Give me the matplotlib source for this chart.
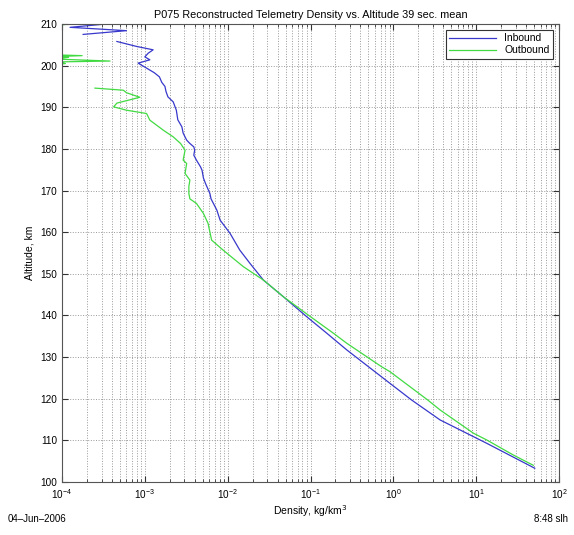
import numpy as np
import matplotlib
matplotlib.use("Agg")
import matplotlib.pyplot as plt
from matplotlib.ticker import FixedLocator, NullFormatter, LogFormatterSciNotation

plt.rcParams['font.family'] = ['Liberation Sans', 'DejaVu Sans']

title = "P075 Reconstructed Telemetry Density vs. Altitude 39 sec. mean"
xlabel = "Density, kg/km$^3$"
ylabel = "Altitude, km"
footer_left = "04\u2013Jun\u20132006"
footer_right = "8:48 slh"

nan = np.nan
inbound_alt = [210.2, 209.9, 209.2, 208.4, 207.5, nan,
               205.8, 204.6, 203.8, 203.0, 202.1, 201.4, 200.6, 199.4, 198.3, 197.3,
               196.0, 195.0, 193.8, 192.5, 191.3, 189.3, 187.0, 185.3, 183.8, 182.1,
               181.3, 180.5, 179.7, 178.5, 177.3, 175.7, 174.9, 173.0, 171.7, 169.3,
               168.0, 165.3, 162.9, 159.7, 155.7, 152.5, 148.5, 144.5, 139.7, 135.7,
               131.7, 127.7, 123.7, 119.7, 114.9, 111.7, 109.3, 106.5, 103.3]
inbound_dens = [8e-5, 3.0e-4, 1.25e-4, 6.0e-4, 1.8e-4, nan,
                4.6e-4, 8.0e-4, 1.26e-3, 1.1e-3, 1.0e-3, 1.15e-3, 8.3e-4, 1.05e-3, 1.3e-3, 1.5e-3,
                1.6e-3, 1.75e-3, 1.8e-3, 1.9e-3, 2.2e-3, 2.4e-3, 2.5e-3, 2.8e-3, 2.9e-3, 3.2e-3,
                3.5e-3, 3.9e-3, 4.0e-3, 3.9e-3, 4.2e-3, 4.7e-3, 4.9e-3, 5.1e-3, 5.4e-3, 6.1e-3,
                6.3e-3, 7.4e-3, 8.1e-3, 1.07e-2, 1.4e-2, 1.86e-2, 2.7e-2, 4.7e-2, 9.0e-2, 0.158,
                0.275, 0.5, 0.91, 1.66, 3.67, 7.7, 13.4, 25.0, 51.0]

outbound_alt = [210.1, 209.9, 209.5, nan,
                202.6, 202.4, 202.2, 202.0, 201.6, 201.1, 200.9, 200.5, 200.2, nan,
                194.6, 194.1, 193.5, 192.4, 191.0, 190.1, 189.3, 188.5, 186.9, 184.5,
                182.9, 181.3, 179.7, 177.3, 176.5, 174.1, 172.5, 171.0, 169.3, 168.0,
                166.9, 164.5, 162.1, 158.1, 155.7, 151.7, 148.5, 144.5, 139.7, 135.7,
                133.3, 127.7, 126.5, 119.7, 117.3, 111.7, 110.1, 106.5, 104.0]
outbound_dens = [1.3e-4, 1.1e-4, 8e-5, nan,
                 8e-5, 1.75e-4, 9e-5, 1.2e-4, 8e-5, 3.8e-4, 9e-5, 1.1e-4, 8e-5, nan,
                 2.5e-4, 5.5e-4, 6.0e-4, 8.7e-4, 4.6e-4, 4.2e-4, 6.0e-4, 1.05e-3, 1.15e-3, 1.67e-3,
                 2.2e-3, 2.7e-3, 3.06e-3, 2.9e-3, 3.2e-3, 3.06e-3, 3.5e-3, 3.4e-3, 3.4e-3, 3.5e-3,
                 4.2e-3, 5.1e-3, 5.8e-3, 6.4e-3, 8.8e-3, 1.55e-2, 2.7e-2, 4.7e-2, 0.10, 0.19,
                 0.275, 0.72, 0.91, 2.6, 3.67, 9.3, 13.4, 28.0, 49.0]

yticks = list(range(100, 211, 10))
xticks = [1e-4, 1e-3, 1e-2, 1e-1, 1e0, 1e1, 1e2]
xminor = [m * d for d in xticks[:-1] for m in range(2, 10)]

fig = plt.figure(figsize=(5.74, 5.35), dpi=100)
ax = fig.add_axes([62/574, 1-482/535, (559-62)/574, (482-24)/535])

ax.plot(inbound_dens, inbound_alt, color='#3838cc', lw=0.9, label='Inbound')
ax.plot(outbound_dens, outbound_alt, color='#42da42', lw=0.9, label='Outbound')

ax.set_xscale('log')
ax.set_xlim(1e-4, 1e2)
ax.set_ylim(100, 210)
ax.set_yticks(yticks)
ax.xaxis.set_major_locator(FixedLocator(xticks))
ax.xaxis.set_major_formatter(LogFormatterSciNotation())
ax.xaxis.set_minor_locator(FixedLocator(xminor))
ax.xaxis.set_minor_formatter(NullFormatter())

ax.grid(True, which='major', axis='both', color='#999999', linestyle=':', lw=0.7)
ax.grid(True, which='minor', axis='x', color='#999999', linestyle=':', lw=0.7)

ax.tick_params(which='both', direction='in', top=True, right=True, labelsize=7.2,
               colors='#333333', labelcolor='black')
ax.tick_params(which='major', length=4)
ax.tick_params(which='minor', length=2)
for s in ax.spines.values():
    s.set_color('#555555')
    s.set_linewidth(0.8)

ax.set_title(title, fontsize=7.8, pad=4)
ax.set_xlabel(xlabel, fontsize=7.5, labelpad=2)
ax.set_ylabel(ylabel, fontsize=7.5, labelpad=4)

leg = ax.legend(loc='upper right', fontsize=7.5, fancybox=False, framealpha=1,
                edgecolor='#333333', handlelength=4.5, borderaxespad=0.6,
                borderpad=0.3, labelspacing=0.2)
leg.get_frame().set_linewidth(0.8)

fig.text(8/574, 1-519/535, footer_left, fontsize=7, va='center', ha='left')
fig.text(568/574, 1-519/535, footer_right, fontsize=7, va='center', ha='right')

fig.savefig('out.png', dpi=100, facecolor='white')
